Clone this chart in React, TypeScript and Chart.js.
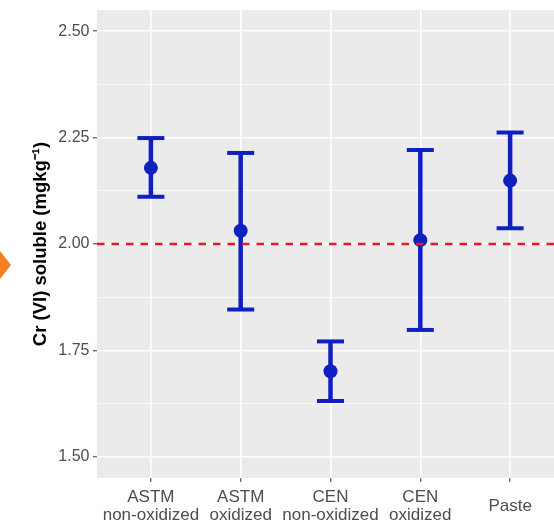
import React, { useEffect, useRef } from "react";
import { Chart, registerables } from "chart.js";

Chart.register(...registerables);

// ---- data ----
const categories: string[][] = [
  ["ASTM", "non-oxidized"],
  ["ASTM", "oxidized"],
  ["CEN", "non-oxidized"],
  ["CEN", "oxidized"],
  ["Paste"],
];
const means = [2.179, 2.031, 1.701, 2.009, 2.149];
const lowers = [2.111, 1.846, 1.631, 1.798, 2.037];
const uppers = [2.249, 2.214, 1.771, 2.221, 2.262];
const threshold = 2.0;
const yMajorTicks = [1.5, 1.75, 2.0, 2.25, 2.5];
const yMinorTicks = [1.625, 1.875, 2.125, 2.375];
const yTitle = "Cr (VI) soluble (mgkg\u207B\u00B9)";

const BLUE = "#1020C0";
const RED = "#E31A2C";
const PANEL = "#EBEBEB";
const FONT = "'Liberation Sans', Arial, sans-serif";

const isMajor = (v: number) => yMajorTicks.some((m) => Math.abs(m - v) < 1e-6);

const panelPlugin = {
  id: "panelBg",
  beforeDraw(chart: any) {
    const { ctx, chartArea } = chart;
    ctx.save();
    ctx.fillStyle = PANEL;
    ctx.fillRect(chartArea.left, chartArea.top, chartArea.right - chartArea.left, chartArea.bottom - chartArea.top);
    ctx.restore();
  },
};

const thresholdPlugin = {
  id: "thresholdLine",
  afterDatasetsDraw(chart: any) {
    const { ctx, chartArea } = chart;
    const y = chart.scales.y.getPixelForValue(threshold);
    ctx.save();
    ctx.beginPath();
    ctx.rect(chartArea.left, chartArea.top, chartArea.right - chartArea.left, chartArea.bottom - chartArea.top);
    ctx.clip();
    ctx.strokeStyle = RED;
    ctx.lineWidth = 2.6;
    ctx.setLineDash([7.5, 7]);
    ctx.beginPath();
    ctx.moveTo(chartArea.left, y);
    ctx.lineTo(chartArea.right, y);
    ctx.stroke();
    ctx.restore();
  },
};

export default function App() {
  const canvasRef = useRef<HTMLCanvasElement | null>(null);

  useEffect(() => {
    if (!canvasRef.current) return;

    const errorSets = categories.map((_, i) => ({
      type: "line" as const,
      data: [
        { x: i, y: lowers[i] },
        { x: i, y: uppers[i] },
      ],
      borderColor: BLUE,
      borderWidth: 4.5,
      showLine: true,
      pointStyle: "line" as const,
      pointRadius: 13.5,
      pointHoverRadius: 13.5,
      pointBorderWidth: 4,
      pointBorderColor: BLUE,
      pointBackgroundColor: BLUE,
      order: 2,
    }));

    const chart = new Chart(canvasRef.current, {
      type: "scatter",
      data: {
        datasets: [
          {
            type: "scatter" as const,
            data: means.map((m, i) => ({ x: i, y: m })),
            pointRadius: 7,
            pointHoverRadius: 7,
            backgroundColor: BLUE,
            borderColor: BLUE,
            borderWidth: 0,
            order: 1,
          },
          ...errorSets,
        ] as any,
      },
      options: {
        animation: false,
        responsive: false,
        events: [],
        layout: { autoPadding: false, padding: { top: 10, right: 6, left: 0, bottom: 0 } },
        plugins: {
          legend: { display: false },
          tooltip: { enabled: false },
        },
        scales: {
          x: {
            type: "linear",
            min: -0.6,
            max: 4.6,
            afterBuildTicks: (scale: any) => {
              scale.ticks = categories.map((_, i) => ({ value: i }));
            },
            afterFit: (scale: any) => {
              scale.height = 45;
              scale.paddingLeft = 0;
              scale.paddingRight = 0;
            },
            border: { display: false },
            grid: {
              color: "#FFFFFF",
              lineWidth: 1.6,
              tickColor: "#333333",
              tickWidth: 1,
              tickLength: 4,
            },
            ticks: {
              autoSkip: false,
              maxRotation: 0,
              minRotation: 0,
              padding: 15,
              crossAlign: "center",
              color: "#4D4D4D",
              font: { family: FONT, size: 17, lineHeight: 1.05 },
              callback: (v: any) => categories[Math.round(Number(v))] as any,
            },
          },
          y: {
            type: "linear",
            min: 1.45,
            max: 2.55,
            afterBuildTicks: (scale: any) => {
              scale.ticks = [...yMajorTicks, ...yMinorTicks]
                .sort((a, b) => a - b)
                .map((v) => ({ value: v }));
            },
            afterFit: (scale: any) => {
              scale.width = 97;
              scale.paddingTop = 0;
              scale.paddingBottom = 0;
            },
            border: { display: false },
            grid: {
              color: "#FFFFFF",
              lineWidth: (c: any) => (isMajor(c.tick?.value) ? 1.6 : 0.8),
              tickColor: (c: any) => (isMajor(c.tick?.value) ? "#333333" : "rgba(0,0,0,0)"),
              tickWidth: 1,
              tickLength: 4,
            },
            ticks: {
              padding: 3.5,
              color: "#4D4D4D",
              font: { family: FONT, size: 16 },
              callback: (v: any) => (isMajor(Number(v)) ? Number(v).toFixed(2) : ""),
            },
            title: {
              display: true,
              text: yTitle,
              color: "#000000",
              font: { family: FONT, size: 18.5, weight: "bold" },
              padding: { top: 30, bottom: 0 },
            },
          },
        },
      },
      plugins: [panelPlugin, thresholdPlugin],
    });

    return () => chart.destroy();
  }, []);

  return (
    <div
      style={{
        position: "fixed",
        left: 0,
        top: 0,
        width: 554,
        height: 523,
        overflow: "hidden",
        background: "#FFFFFF",
      }}
    >
      <div
        style={{
          position: "absolute",
          left: 0,
          top: 251,
          width: 0,
          height: 0,
          borderTop: "14px solid transparent",
          borderBottom: "14px solid transparent",
          borderLeft: "11px solid #F47F20",
        }}
      />
      <canvas ref={canvasRef} width={570} height={523} style={{ display: "block" }} />
    </div>
  );
}
